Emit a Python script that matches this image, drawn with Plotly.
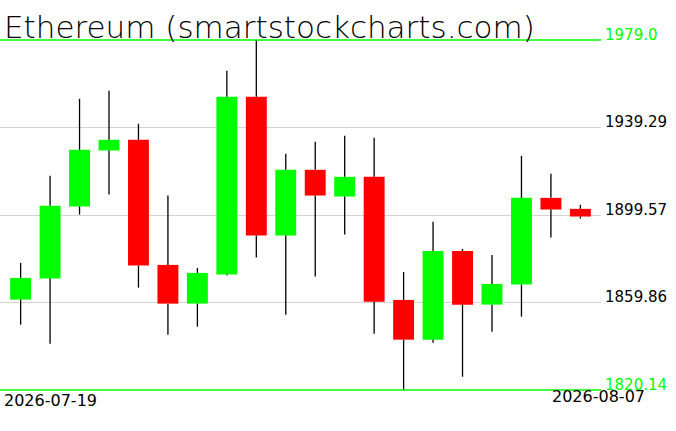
import plotly.graph_objects as go

dates = ["2026-07-19", "2026-07-20", "2026-07-21", "2026-07-22", "2026-07-23",
         "2026-07-24", "2026-07-25", "2026-07-26", "2026-07-27", "2026-07-28",
         "2026-07-29", "2026-07-30", "2026-07-31", "2026-08-01", "2026-08-02",
         "2026-08-03", "2026-08-04", "2026-08-05", "2026-08-06", "2026-08-07"]
opens = [1861.16, 1870.70, 1903.41, 1928.85, 1933.71, 1876.92, 1859.34, 1872.52, 1953.24, 1890.23,
         1920.08, 1907.95, 1916.90, 1861.02, 1842.99, 1883.28, 1858.89, 1867.97, 1907.36, 1902.36]
highs = [1877.83, 1917.35, 1952.33, 1955.97, 1940.98, 1908.40, 1875.56, 1965.05, 1979.00, 1927.35,
         1932.80, 1935.53, 1934.62, 1873.74, 1896.46, 1884.19, 1881.47, 1926.44, 1918.26, 1904.18]
lows = [1849.80, 1841.17, 1899.77, 1908.86, 1866.61, 1845.26, 1848.89, 1872.06, 1880.24, 1854.35,
        1871.61, 1890.69, 1845.71, 1820.14, 1841.63, 1826.18, 1846.62, 1853.44, 1889.33, 1897.96]
closes = [1871.02, 1903.73, 1929.17, 1933.71, 1876.61, 1859.34, 1873.29, 1953.24, 1890.23, 1920.08,
          1908.40, 1916.90, 1860.25, 1842.99, 1883.28, 1858.89, 1868.29, 1907.36, 1902.05, 1898.87]

y_min, y_max = 1820.14, 1979.0
grid_vals = [1859.86, 1899.57, 1939.29]
title_text = "Ethereum (smartstockcharts.com)"

UP, DOWN = "#00ff00", "#ff0000"

idx = list(range(len(dates)))
body_lo = [min(o, c) for o, c in zip(opens, closes)]
body_hi = [max(o, c) for o, c in zip(opens, closes)]
colors = [UP if c >= o else DOWN for o, c in zip(opens, closes)]

wx, wy = [], []
for i, h, l, bl, bh in zip(idx, highs, lows, body_lo, body_hi):
    wx += [i, i, None, i, i, None]
    wy += [h, bh, None, bl, l, None]

fig = go.Figure()
fig.add_trace(go.Bar(x=idx, y=[bh - bl for bl, bh in zip(body_lo, body_hi)], base=body_lo,
                     width=0.71, marker=dict(color=colors, line=dict(width=0)),
                     hoverinfo="skip"))
fig.add_trace(go.Scatter(x=wx, y=wy, mode="lines", line=dict(color="black", width=1.3),
                         hoverinfo="skip", connectgaps=False))

for v in (y_min, y_max):
    fig.add_shape(type="line", xref="paper", x0=0, x1=1, yref="y", y0=v, y1=v,
                  line=dict(color=UP, width=1.3))

lab_font = dict(family="DejaVu Sans", size=15)
for v, txt, col in [(y_max, "1979.0", UP), (grid_vals[2], "1939.29", "black"),
                    (grid_vals[1], "1899.57", "black"), (grid_vals[0], "1859.86", "black"),
                    (y_min, "1820.14", UP)]:
    fig.add_annotation(xref="paper", x=1, yref="y", y=v, text=txt, showarrow=False,
                       xanchor="left", yanchor="middle", xshift=2, yshift=5,
                       font=dict(color=col, **lab_font))

fig.add_annotation(xref="paper", x=0, yref="paper", y=0, text=dates[0], showarrow=False,
                   xanchor="left", yanchor="middle", xshift=2, yshift=-9,
                   font=dict(family="DejaVu Sans", size=16, color="black"))
fig.add_annotation(xref="paper", x=1, yref="paper", y=0, text=dates[-1], showarrow=False,
                   xanchor="right", yanchor="middle", xshift=46, yshift=-5,
                   font=dict(family="DejaVu Sans", size=16, color="black"))
fig.add_annotation(xref="paper", x=0, yref="paper", y=1, text=title_text, showarrow=False,
                   xanchor="left", yanchor="middle", xshift=2, yshift=12,
                   font=dict(family="DejaVu Sans", size=31, color="black", weight=200))

pad = (y_max - y_min) / 350.0
fig.update_layout(
    width=676, height=431,
    margin=dict(l=0, r=75, t=39, b=40),
    paper_bgcolor="white", plot_bgcolor="white",
    showlegend=False,
    xaxis=dict(range=[-0.70, 19.70], showgrid=False, zeroline=False, showticklabels=False,
               showline=False, ticks=""),
    yaxis=dict(range=[y_min - pad, y_max + pad], tickvals=grid_vals, showgrid=True,
               gridcolor="#d3d3d3", gridwidth=1, zeroline=False, showticklabels=False,
               showline=False, ticks=""),
)

fig.write_html("out.html", config={"displayModeBar": False},
               post_script="document.body.style.margin='0';document.body.style.overflow='hidden';")
